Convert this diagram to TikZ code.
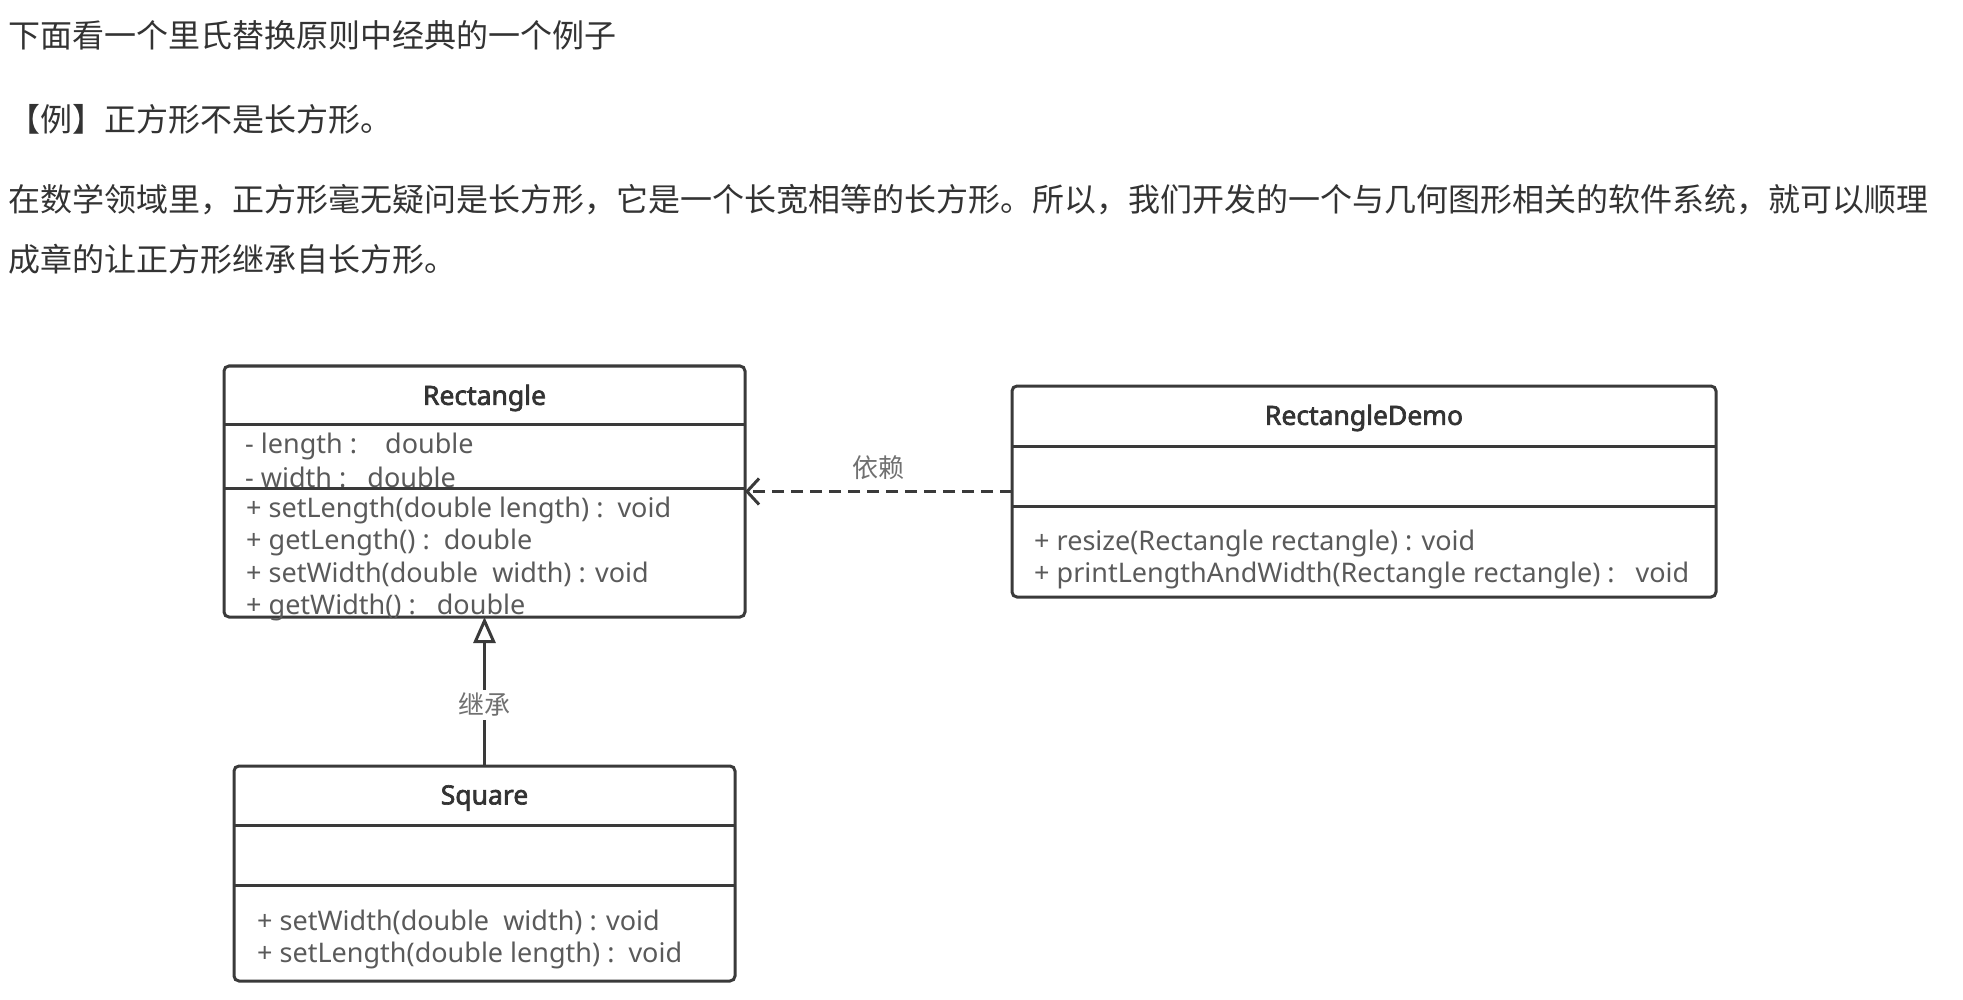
\documentclass[tikz,border=0pt]{standalone}
\usepackage{fontspec}
\newfontfamily\cjk{Noto Sans CJK SC}
\newfontfamily\umlfont{Noto Sans}[AutoFakeBold=2.5]
\usepackage{tikz}
\usetikzlibrary{positioning, arrows.meta, calc}
\definecolor{textgray}{HTML}{333333}
\definecolor{linegray}{HTML}{3A3A3A}
\definecolor{membergray}{HTML}{5A5A5A}
\definecolor{labelgray}{HTML}{707070}

\begin{document}
\begin{tikzpicture}[
        x=1pt, y=-1pt,
        para/.style={anchor=west, inner sep=0pt, text=textgray, font=\cjk\fontsize{32}{38}\selectfont},
        classbox/.style={draw=linegray, line width=3pt, rounded corners=5pt, anchor=north west, inner sep=0pt, outer sep=0pt},
        classline/.style={draw=linegray, line width=3pt},
        classname/.style={font=\umlfont\bfseries\fontsize{26.5}{30}\selectfont, text=textgray, inner sep=0pt},
        member/.style={anchor=west, font=\umlfont\fontsize{27}{30}\selectfont, text=membergray, inner sep=0pt},
        rel/.style={draw=linegray, line width=3pt},
        rellabel/.style={font=\cjk\fontsize{26}{30}\selectfont, text=labelgray, fill=white, inner sep=3pt}
    ]
    \useasboundingbox (0,0) rectangle (1963,1000);

    % Text
    \node[para] (t1) at (8,35) {下面看一个里氏替换原则中经典的一个例子};
    \node[para] (t2) at (8,119) {【例】正方形不是长方形。};
    \node[para] (t3) at (8,200) {在数学领域里，正方形毫无疑问是长方形，它是一个长宽相等的长方形。所以，我们开发的一个与几何图形相关的软件系统，就可以顺理};
    \node[para] (t4) at (8,259) {成章的让正方形继承自长方形。};

    % Klassen
    \node[classbox, minimum width=521, minimum height=251] (rect) at (224,366) {};
    \node[classname] (rectname) at ($(rect.north)+(0,32)$) {Rectangle};
    \node[member] (rlen) at ($(rect.north west)+(21,80)$) {- length :\ \ \ \ double};
    \node[member] (rwid) at ($(rect.north west)+(21,111)$) {- width :\ \ \ double};
    \node[member] (rsetl) at ($(rect.north west)+(22,144)$) {+ setLength(double length) :\ \ void};
    \node[member] (rgetl) at ($(rect.north west)+(22,176)$) {+ getLength() :\ \ double};
    \node[member] (rsetw) at ($(rect.north west)+(22,208)$) {+ setWidth(double\ \ width) : void};
    \node[member] (rgetw) at ($(rect.north west)+(22,241)$) {+ getWidth() :\ \ \ double};
    \draw[classline] ($(rect.north west)+(0,58)$) -- ($(rect.north east)+(0,58)$);
    \draw[classline] ($(rect.north west)+(0,122)$) -- ($(rect.north east)+(0,122)$);

    \node[classbox, minimum width=704, minimum height=211] (demo) at (1012,386) {};
    \node[classname] (demoname) at ($(demo.north)+(0,32)$) {RectangleDemo};
    \node[member] (dres) at ($(demo.north west)+(22,157)$) {+ resize(Rectangle rectangle) : void};
    \node[member] (dprt) at ($(demo.north west)+(22,189)$) {+ printLengthAndWidth(Rectangle rectangle) :\ \ \ void};
    \draw[classline] ($(demo.north west)+(0,60)$) -- ($(demo.north east)+(0,60)$);
    \draw[classline] ($(demo.north west)+(0,120)$) -- ($(demo.north east)+(0,120)$);

    \node[classbox, minimum width=501, minimum height=215] (sq) at (234,766) {};
    \node[classname] (sqname) at ($(sq.north)+(0,32)$) {Square};
    \node[member] (ssetw) at ($(sq.north west)+(23,156)$) {+ setWidth(double\ \ width) : void};
    \node[member] (ssetl) at ($(sq.north west)+(23,189)$) {+ setLength(double length) :\ \ void};
    \draw[classline] ($(sq.north west)+(0,59)$) -- ($(sq.north east)+(0,59)$);
    \draw[classline] ($(sq.north west)+(0,119)$) -- ($(sq.north east)+(0,119)$);

    % Beziehungen
    \draw[rel, dash pattern=on 12pt off 7pt, -{Straight Barb[length=12pt, width=26pt]}]
        (demo.west) -- (rect.east |- demo.west) node[midway, above=7pt, rellabel, fill=none] {依赖};
    \draw[rel, -{Triangle[open, length=26pt, width=22pt]}]
        (sq.north) -- (rect.south) node[pos=0.41, rellabel] {继承};

\end{tikzpicture}
\end{document}
